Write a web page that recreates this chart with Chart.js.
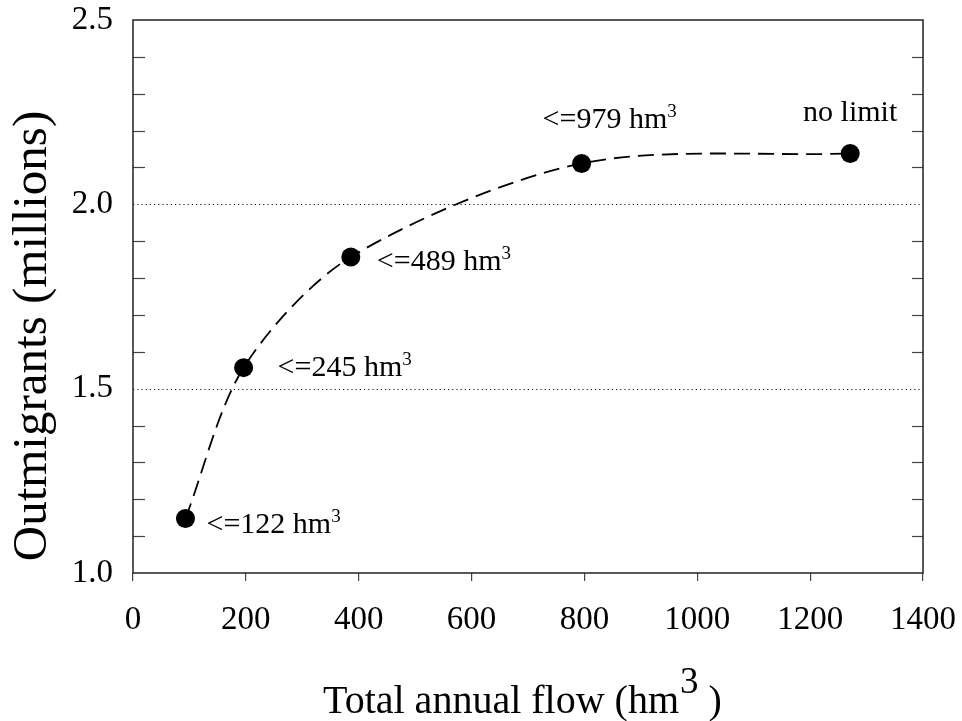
<!DOCTYPE html>
<html><head><meta charset="utf-8">
<script src="https://cdn.jsdelivr.net/npm/chart.js@4.4.1/dist/chart.umd.min.js"></script>
<style>html,body{margin:0;padding:0;background:#fff}#wrap{width:962px;height:721px}canvas{display:block}</style>
</head><body><div id="wrap"><canvas id="c" width="962" height="721"></canvas></div>
<script>
// ---- data ----
const flowX = [93, 196, 386, 795, 1271];
const outmigrants = [1.148, 1.557, 1.857, 2.111, 2.138];
const pointLabels = ['<=122 hm', '<=245 hm', '<=489 hm', '<=979 hm', 'no limit'];
const pointLabelSup = ['3', '3', '3', '3', ''];
const xTicks = [0, 200, 400, 600, 800, 1000, 1200, 1400];
const yTicks = [1.0, 1.5, 2.0, 2.5];
const yMinorTicks = [1.1, 1.2, 1.3, 1.4, 1.6, 1.7, 1.8, 1.9, 2.1, 2.2, 2.3, 2.4];
const yGridLines = [1.5, 2.0];
const xTitleMain = 'Total annual flow (hm';
const xTitleSup = '3';
const xTitleEnd = ' )';
const yTitle = 'Outmigrants (millions)';

// ---- styles ----
const FONT = '"Liberation Serif", "Times New Roman", serif';
const labelOffsets = [[21, 15, 'left'], [34, 8, 'left'], [26, 13, 'left'], [-39, -35, 'left'], [0, -32, 'center']];
const AXIS = '#222';

const zeroPad = s => { s.paddingLeft = 0; s.paddingRight = 0; s.paddingTop = 0; s.paddingBottom = 0; };

const decor = {
  id: 'decor',
  beforeDatasetsDraw(chart) {
    const {ctx, chartArea: a, scales: {x, y}} = chart;
    ctx.save();
    ctx.strokeStyle = '#111'; ctx.lineWidth = 1.2; ctx.setLineDash([1.2, 3]);
    yGridLines.forEach(v => {
      const py = Math.round(y.getPixelForValue(v)) + 0.5;
      ctx.beginPath(); ctx.moveTo(a.left, py); ctx.lineTo(a.right, py); ctx.stroke();
    });
    ctx.setLineDash([]);
    ctx.strokeStyle = '#444'; ctx.lineWidth = 1.2;
    yMinorTicks.forEach(v => {
      const py = Math.round(y.getPixelForValue(v)) + 0.5;
      ctx.beginPath(); ctx.moveTo(a.left, py); ctx.lineTo(a.left + 12, py); ctx.stroke();
      ctx.beginPath(); ctx.moveTo(a.right, py); ctx.lineTo(a.right - 11, py); ctx.stroke();
    });
    ctx.strokeStyle = AXIS; ctx.lineWidth = 1.5;
    ctx.strokeRect(a.left, a.top, a.right - a.left, a.bottom - a.top);
    ctx.restore();
  },
  afterDraw(chart) {
    const {ctx, scales: {x, y}} = chart;
    ctx.save();
    ctx.fillStyle = '#000';
    flowX.forEach((fx, i) => {
      const px = x.getPixelForValue(fx), py = y.getPixelForValue(outmigrants[i]);
      const [dx, dy, al] = labelOffsets[i];
      ctx.font = '30px ' + FONT;
      ctx.textBaseline = 'alphabetic';
      const w = ctx.measureText(pointLabels[i]).width;
      let sx = px + dx;
      if (al === 'center') sx = px - w / 2;
      ctx.textAlign = 'left';
      ctx.fillText(pointLabels[i], sx, py + dy);
      if (pointLabelSup[i]) {
        ctx.font = '19px ' + FONT;
        ctx.fillText(pointLabelSup[i], sx + w, py + dy - 11);
      }
    });
    ctx.font = '40px ' + FONT;
    ctx.textAlign = 'left'; ctx.textBaseline = 'alphabetic';
    const tx = 323, ty = 713;
    ctx.fillText(xTitleMain, tx, ty);
    const w1 = ctx.measureText(xTitleMain).width;
    ctx.font = '37px ' + FONT;
    ctx.fillText(xTitleSup, tx + w1 + 1, ty - 20);
    const w2 = ctx.measureText(xTitleSup).width;
    ctx.font = '40px ' + FONT;
    ctx.fillText(xTitleEnd, tx + w1 + w2 + 1, ty);
    ctx.translate(33, 336);
    ctx.rotate(-Math.PI / 2);
    ctx.font = '49px ' + FONT;
    ctx.textAlign = 'center'; ctx.textBaseline = 'middle';
    ctx.fillText(yTitle, 0, 0);
    ctx.restore();
  }
};

new Chart(document.getElementById('c'), {
  type: 'scatter',
  data: {
    datasets: [{
      data: flowX.map((v, i) => ({x: v, y: outmigrants[i]})),
      showLine: true,
      tension: 0.3,
      borderColor: '#000',
      borderWidth: 1.8,
      borderDash: [16, 8],
      pointRadius: 9.5,
      pointBackgroundColor: '#000',
      pointBorderColor: '#000',
      pointBorderWidth: 0,
      clip: false
    }]
  },
  options: {
    responsive: false,
    devicePixelRatio: 1,
    animation: false,
    events: [],
    layout: {padding: {top: 20, right: 39, left: 0, bottom: 0}},
    plugins: {legend: {display: false}, tooltip: {enabled: false}},
    scales: {
      x: {
        type: 'linear', min: 0, max: 1400,
        afterBuildTicks: s => { s.ticks = xTicks.map(v => ({value: v})); },
        afterFit: s => { s.height = 148; zeroPad(s); },
        grid: {drawOnChartArea: false, drawTicks: true, tickLength: 8, color: '#444', lineWidth: 1.2},
        border: {display: false},
        ticks: {color: '#000', font: {family: FONT, size: 33}, padding: 20, maxRotation: 0, autoSkip: false, callback: v => String(v)}
      },
      y: {
        type: 'linear', min: 1.0, max: 2.5,
        afterBuildTicks: s => { s.ticks = yTicks.map(v => ({value: v})); },
        afterFit: s => { s.width = 133; zeroPad(s); },
        grid: {display: false, drawTicks: false},
        border: {display: false},
        ticks: {color: '#000', font: {family: FONT, size: 33}, padding: 20, callback: v => v.toFixed(1)}
      }
    }
  },
  plugins: [decor]
});
</script>
</body></html>
